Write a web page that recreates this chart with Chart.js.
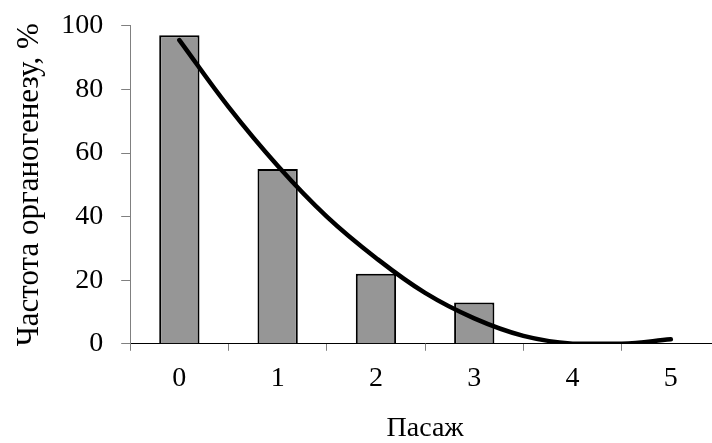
<!DOCTYPE html>
<html>
<head>
<meta charset="utf-8">
<script src="https://cdn.jsdelivr.net/npm/chart.js@4.4.0/dist/chart.umd.min.js"></script>
<style>
  html, body { margin: 0; padding: 0; background: #fff; overflow: hidden; }
  #wrap { width: 722px; height: 454px; margin-top: -9px; }
</style>
</head>
<body>
<div id="wrap"><canvas id="chart"></canvas></div>
<script>
// values
const passages = ["0", "1", "2", "3", "4", "5"];
const organogenesis = [97, 55, 22, 13, 0, 0];
// trend line, read every half step
const trendX = [0, 0.5, 1, 1.5, 2, 2.5, 3, 3.5, 4, 4.5, 5];
const trendY = [95.5, 74.5, 56, 40, 27, 16, 8, 2.5, 0, 0, 1.4];

const serif = "'Liberation Serif', 'Times New Roman', serif";

const ctx = document.getElementById("chart").getContext("2d");
const chart = new Chart(ctx, {
  type: "bar",
  data: {
    labels: passages,
    datasets: [{
      type: "line",
      label: "Тренд",
      data: trendX.map((x, i) => ({ x: x, y: trendY[i] })),
      xAxisID: "x2",
      borderColor: "#000",
      borderWidth: 4.5,
      borderCapStyle: "round",
      pointRadius: 0,
      tension: 0.4,
      fill: false,
      order: 0
    }, {
      label: "Частота органогенезу",
      data: organogenesis,
      xAxisID: "x",
      backgroundColor: "#969696",
      borderColor: "#000",
      borderWidth: 2,
      grouped: false,
      barPercentage: 0.41,
      categoryPercentage: 1,
      order: 1
    }]
  },
  options: {
    responsive: true,
    maintainAspectRatio: false,
    animation: false,
    layout: { padding: { left: 8, right: 2, top: 0, bottom: 0 } },
    plugins: { legend: { display: false }, tooltip: { enabled: false } },
    scales: {
      x: {
        offset: true,
        grid: { offset: true, drawOnChartArea: false, tickLength: 7, color: "#808080" },
        border: { color: "#000", width: 1 },
        ticks: { color: "#000", font: { family: serif, size: 28 }, padding: 11 },
        title: { display: true, text: "Пасаж", color: "#000", font: { family: serif, size: 28 }, padding: { top: 5, bottom: 0 } }
      },
      x2: { type: "linear", min: -0.5, max: 5.5, offset: false, display: false },
      y: {
        min: 0,
        max: 100,
        ticks: { stepSize: 20, color: "#000", font: { family: serif, size: 28 }, padding: 18 },
        grid: { drawOnChartArea: false, tickLength: 9, color: "#808080" },
        border: { color: "#808080", width: 1 },
        title: { display: true, text: "Частота органогенезу, %", color: "#000", font: { family: serif, size: 31 }, padding: { top: 3, bottom: -5 } }
      }
    }
  }
});
</script>
</body>
</html>
